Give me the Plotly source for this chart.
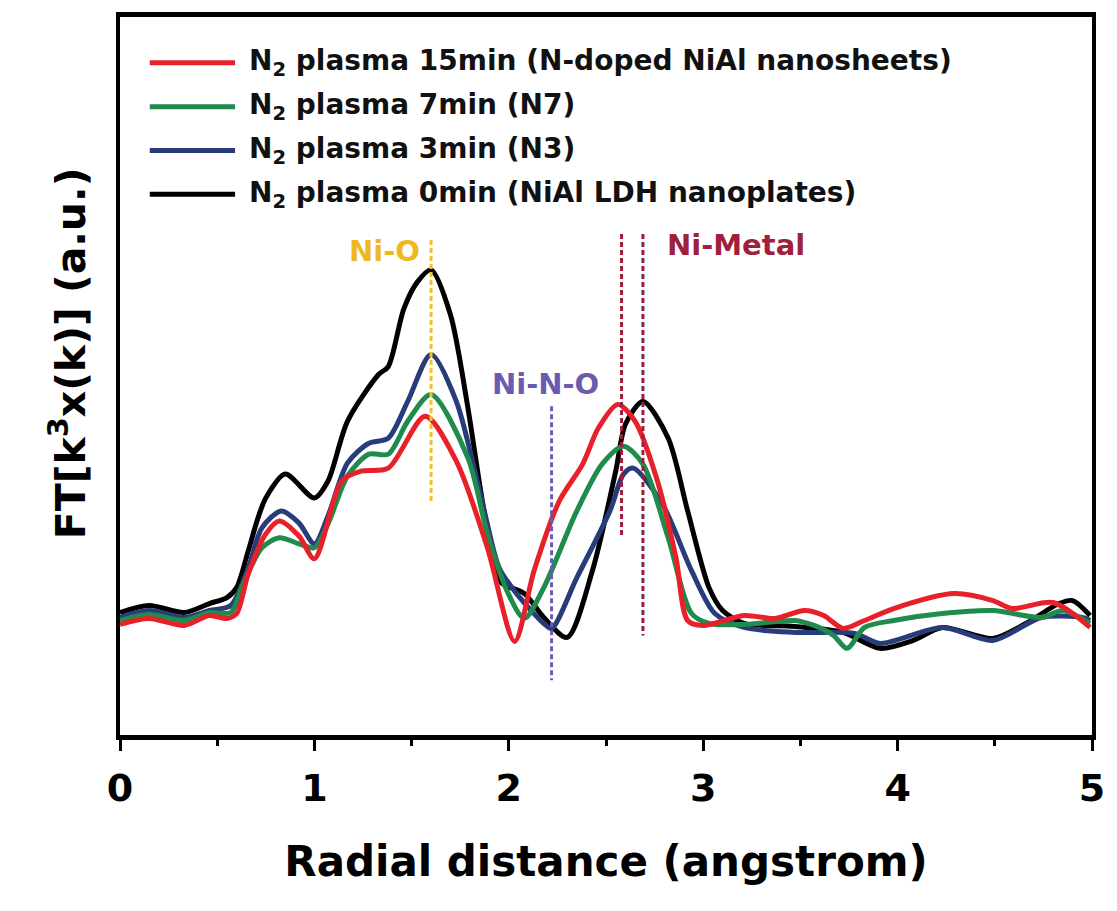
import plotly.graph_objects as go

# ---- data (radial distance in angstrom, FT magnitude in a.u.) ----
r_black = [0.00, 0.15, 0.33, 0.46, 0.55, 0.60, 0.66, 0.71, 0.75, 0.85, 1.00, 1.07, 1.17, 1.33, 1.38, 1.46,
           1.53, 1.60, 1.70, 1.79, 1.87, 1.95, 2.08, 2.18, 2.30, 2.43, 2.55, 2.60, 2.69, 2.82, 2.92, 3.03,
           3.10, 3.21, 3.47, 3.72, 3.91, 4.08, 4.23, 4.49, 4.66, 4.83, 4.90, 4.99]
ft_black = [1.23, 1.30, 1.23, 1.32, 1.38, 1.48, 1.85, 2.18, 2.38, 2.62, 2.38, 2.55, 3.15, 3.62, 3.70, 4.28,
            4.55, 4.67, 4.22, 3.28, 2.28, 1.55, 1.42, 1.18, 0.98, 1.65, 2.65, 3.12, 3.35, 2.98, 2.25, 1.48,
            1.25, 1.12, 1.09, 1.03, 0.87, 0.95, 1.08, 0.97, 1.12, 1.32, 1.35, 1.20]

r_blue = [0.00, 0.15, 0.33, 0.46, 0.57, 0.66, 0.73, 0.83, 0.92, 1.00, 1.07, 1.17, 1.28, 1.38, 1.48, 1.60,
          1.73, 1.87, 1.95, 2.04, 2.18, 2.22, 2.35, 2.52, 2.59, 2.64, 2.79, 2.94, 3.06, 3.21, 3.47, 3.78,
          3.91, 4.23, 4.49, 4.74, 4.95, 4.99]
ft_blue = [1.18, 1.25, 1.18, 1.25, 1.30, 1.68, 2.08, 2.25, 2.13, 1.92, 2.20, 2.73, 2.93, 2.98, 3.35, 3.82,
           3.35, 2.28, 1.68, 1.42, 1.12, 1.07, 1.58, 2.25, 2.62, 2.68, 2.32, 1.65, 1.22, 1.08, 1.03, 1.02,
           0.92, 1.08, 0.95, 1.18, 1.18, 1.15]

r_green = [0.00, 0.15, 0.33, 0.46, 0.57, 0.63, 0.73, 0.82, 0.92, 1.00, 1.07, 1.17, 1.28, 1.38, 1.48, 1.60,
           1.79, 1.89, 1.99, 2.08, 2.18, 2.35, 2.48, 2.59, 2.69, 2.82, 2.94, 3.03, 3.21, 3.47, 3.57, 3.67,
           3.74, 3.83, 3.98, 4.23, 4.49, 4.74, 4.85, 4.99]
ft_green = [1.15, 1.21, 1.15, 1.23, 1.23, 1.50, 1.88, 1.98, 1.92, 1.88, 2.12, 2.60, 2.82, 2.82, 3.15, 3.42,
            2.78, 2.02, 1.45, 1.17, 1.48, 2.25, 2.72, 2.90, 2.72, 1.98, 1.22, 1.12, 1.11, 1.15, 1.10, 1.00,
            0.87, 1.08, 1.15, 1.22, 1.25, 1.18, 1.25, 1.12]

r_red = [0.00, 0.15, 0.33, 0.46, 0.55, 0.60, 0.66, 0.75, 0.82, 0.92, 1.00, 1.14, 1.24, 1.38, 1.57, 1.73,
         1.89, 2.03, 2.13, 2.26, 2.38, 2.46, 2.56, 2.65, 2.76, 2.86, 2.92, 3.00, 3.21, 3.37, 3.52, 3.62,
         3.72, 3.83, 3.98, 4.29, 4.49, 4.59, 4.80, 4.99]
ft_red = [1.11, 1.17, 1.10, 1.20, 1.17, 1.22, 1.62, 2.02, 2.15, 2.00, 1.77, 2.55, 2.65, 2.68, 3.20, 2.75,
          1.88, 0.94, 1.65, 2.35, 2.72, 3.08, 3.32, 3.15, 2.58, 1.78, 1.15, 1.10, 1.20, 1.17, 1.25, 1.20,
          1.07, 1.15, 1.27, 1.42, 1.35, 1.27, 1.33, 1.08]

series_names = [
    "N<sub>2</sub> plasma 15min (N-doped NiAl nanosheets)",
    "N<sub>2</sub> plasma 7min (N7)",
    "N<sub>2</sub> plasma 3min (N3)",
    "N<sub>2</sub> plasma 0min (NiAl LDH nanoplates)",
]
series_colors = ["#E8202A", "#1F8B4C", "#283C7A", "#000000"]

# reference dashed lines: (colour, x position, y top, y bottom)
ref_lines = [
    ("#F2C12E", 1.60, 4.97, 2.35),
    ("#6A5BB0", 2.22, 3.30, 0.55),
    ("#9E1F3C", 2.58, 5.03, 1.98),
    ("#9E1F3C", 2.69, 5.03, 1.00),
]
ref_labels = [
    ("Ni-O", 1.36, 4.86, "#EDB920"),
    ("Ni-N-O", 2.19, 3.52, "#6A5BB0"),
    ("Ni-Metal", 3.17, 4.92, "#A0203C"),
]

FONT = "DejaVu Sans, Liberation Sans, Arial, sans-serif"

fig = go.Figure()
data_order = [(r_black, ft_black, 3), (r_blue, ft_blue, 2), (r_green, ft_green, 1), (r_red, ft_red, 0)]
for rx, fy, idx in data_order:
    fig.add_trace(go.Scatter(
        x=rx, y=fy, mode="lines", name=series_names[idx],
        line=dict(color=series_colors[idx], width=5, shape="spline", smoothing=0.8),
        showlegend=False,
    ))

for col, xv, y0, y1 in ref_lines:
    fig.add_trace(go.Scatter(
        x=[xv, xv], y=[y0, y1], mode="lines", showlegend=False,
        line=dict(color=col, width=3, dash="5px,3px"),
    ))

annotations = []
for text, xv, yv, col in ref_labels:
    annotations.append(dict(x=xv, y=yv, xref="x", yref="y", text="<b>%s</b>" % text,
                            showarrow=False, font=dict(family=FONT, size=29, color=col)))

# legend drawn manually (long line samples, as in the original figure)
shapes = []
leg_y = [60, 104, 148, 192]
for i, yy in enumerate(leg_y):
    yp = (735 - yy) / 721
    x0 = (150 - 120) / 980
    x1 = (236 - 120) / 980
    shapes.append(dict(type="line", xref="paper", yref="paper", x0=x0, x1=x1, y0=yp, y1=yp,
                       line=dict(color=series_colors[i], width=5)))
    annotations.append(dict(x=(248 - 120) / 980, y=yp, xref="paper", yref="paper",
                            xanchor="left", yanchor="middle", showarrow=False,
                            text="<b>%s</b>" % series_names[i],
                            font=dict(family=FONT, size=28, color="#111111")))

annotations.append(dict(x=(38 - 120) / 980, y=(735 - 352) / 721, xref="paper", yref="paper",
                        text="<b>FT[k<sup>3</sup>x(k)] (a.u.)</b>", textangle=-90, showarrow=False,
                        font=dict(family=FONT, size=41, color="black")))

tick_vals = [0, 1, 2, 3, 4, 5]
tick_text = ["<b>%d</b>" % v for v in tick_vals]

fig.update_layout(
    width=1117, height=911,
    margin=dict(l=120, r=17, t=14, b=176),
    paper_bgcolor="white", plot_bgcolor="white",
    shapes=shapes, annotations=annotations,
    showlegend=False,
    xaxis=dict(range=[0, 5], tickvals=tick_vals, ticktext=tick_text, ticks="outside", ticklen=11,
               tickwidth=3, tickcolor="black", showline=True, linewidth=5, linecolor="black", mirror=True,
               showgrid=False, zeroline=False, ticklabelstandoff=4,
               tickfont=dict(family=FONT, size=38, color="black"),
               minor=dict(dtick=0.5, ticks="outside", ticklen=6, tickwidth=3, tickcolor="black"),
               title=dict(text="<b>Radial distance (angstrom)</b>", font=dict(family=FONT, size=42, color="black"),
                          standoff=40)),
    yaxis=dict(range=[0, 7.21], showticklabels=False, ticks="", showline=True, linewidth=4,
               linecolor="black", mirror=True, showgrid=False, zeroline=False),
)

fig.write_html("out.html")
